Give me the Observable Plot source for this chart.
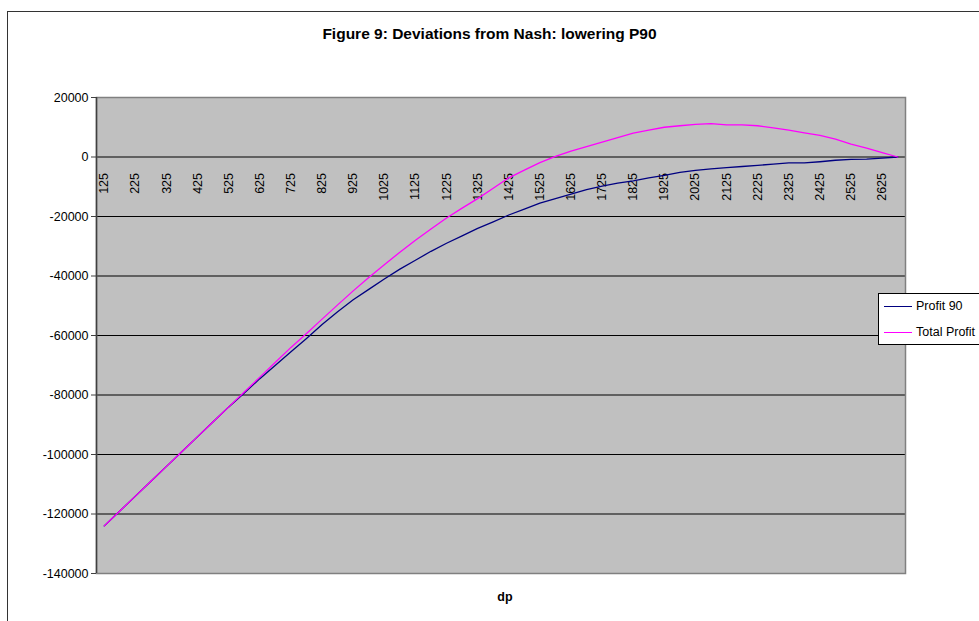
<!DOCTYPE html>
<html>
<head>
<meta charset="utf-8">
<script src="https://cdn.jsdelivr.net/npm/d3@7"></script>
<script src="https://cdn.jsdelivr.net/npm/@observablehq/plot@0.6"></script>
<style>
  html, body { margin: 0; padding: 0; background: #fff; overflow: hidden; }
  #chart { position: relative; width: 979px; height: 621px; font-family: Arial, "Liberation Sans", sans-serif; }
  #border { position: absolute; left: 7px; top: 11px; width: 1000px; height: 700px;
            border-left: 1.5px solid #333; border-top: 1.5px solid #333; }
  #plot { position: absolute; left: 0; top: 0; }
  #title { position: absolute; left: 0; width: 979px; top: 25px; text-align: center;
           font-weight: bold; font-size: 15.5px; color: #000; }
  #xtitle { position: absolute; left: 490px; width: 30px; top: 590px; text-align: center;
            font-weight: bold; font-size: 12.5px; }
  #legend { position: absolute; left: 878px; top: 293px; width: 120px; height: 50px;
            border: 1px solid #000; background: #fff; font-size: 12.5px; }
  .item { position: absolute; left: 5px; display: flex; align-items: center; white-space: nowrap; }
  .swatch { width: 28px; height: 0; border-top: 1.3px solid; margin-right: 4px; }
</style>
</head>
<body>
<div id="chart">
  <div id="border"></div>
  <div id="plot"></div>
  <div id="title">Figure 9: Deviations from Nash: lowering P90</div>
  <div id="xtitle">dp</div>
  <div id="legend"></div>
</div>
<script>
// deviation dp (categories, step 50)
const dp = d3.range(125, 2676, 50);

const profit90 = [
  -124000, -119000, -114000, -109000, -104000, -99000, -94000, -89000, -84000, -79300,
  -74500, -70000, -65500, -61000, -56300, -52000, -48000, -44500, -41000, -37700,
  -34700, -31700, -29000, -26500, -24000, -21800, -19500, -17500, -15500, -14000,
  -12500, -11000, -9800, -8800, -8000, -7000, -6200, -5200, -4500, -4000,
  -3600, -3200, -2800, -2400, -2000, -2000, -1600, -1100, -800, -700,
  -400, 0
];

const totalProfit = [
  -124000, -119000, -114000, -109000, -104000, -99000, -94000, -89000, -84000, -79000,
  -74000, -69000, -64000, -59300, -54500, -49700, -45000, -40500, -36200, -32000,
  -28000, -24200, -20500, -17200, -14000, -10500, -7000, -4400, -1900, 200,
  2000, 3500, 5000, 6500, 8000, 9000, 10000, 10500, 11000, 11200,
  10800, 10800, 10500, 9800, 9000, 8100, 7300, 6000, 4300, 3000,
  1500, 0
];

const xLabels = d3.range(125, 2626, 100);
const yTicks = d3.range(-140000, 20001, 20000);

const series = [
  {name: "Profit 90", color: "#000080", values: profit90},
  {name: "Total Profit", color: "#FF00FF", values: totalProfit}
];

const rows = series.flatMap(s => s.values.map((v, i) => ({series: s.name, dp: dp[i], value: v})));

const chart = Plot.plot({
  width: 979,
  height: 621,
  marginLeft: 96,
  marginRight: 74,
  marginTop: 97,
  marginBottom: 48,
  style: {fontFamily: "Arial, 'Liberation Sans', sans-serif", fontSize: "12.5px", background: "transparent", overflow: "visible"},
  x: {type: "linear", domain: [dp[0] - 25, dp[dp.length - 1] + 25], axis: null},
  y: {domain: [-140000, 20000], label: null},
  color: {domain: series.map(s => s.name), range: series.map(s => s.color)},
  marks: [
    Plot.frame({fill: "#c0c0c0"}),
    Plot.ruleY(yTicks.filter(t => t > -140000 && t < 20000), {stroke: "#000", strokeWidth: 1}),
    Plot.frame({stroke: "#808080", strokeWidth: 1.5}),
    Plot.ruleX([dp[0] - 25], {stroke: "#404040", strokeWidth: 1.5}),
    Plot.axisY({ticks: yTicks, tickFormat: d => String(d), tickSize: 5, tickPadding: 3,
                fontSize: 12.5, stroke: "#404040", color: "#000", label: null}),
    Plot.text(xLabels, {x: d => d, y: 0, text: d => String(d), rotate: -90,
                        textAnchor: "end", dy: 16, fill: "#000", fontSize: 12.5}),
    Plot.line(rows, {x: "dp", y: "value", stroke: "series", strokeWidth: 1.3})
  ]
});
document.getElementById("plot").appendChild(chart);

// legend
const legend = document.getElementById("legend");
series.forEach((s, i) => {
  const item = document.createElement("div");
  item.className = "item";
  item.style.top = (5 + i * 26) + "px";
  item.innerHTML = `<span class="swatch" style="border-color:${s.color}"></span><span>${s.name}</span>`;
  legend.appendChild(item);
});
</script>
</body>
</html>
